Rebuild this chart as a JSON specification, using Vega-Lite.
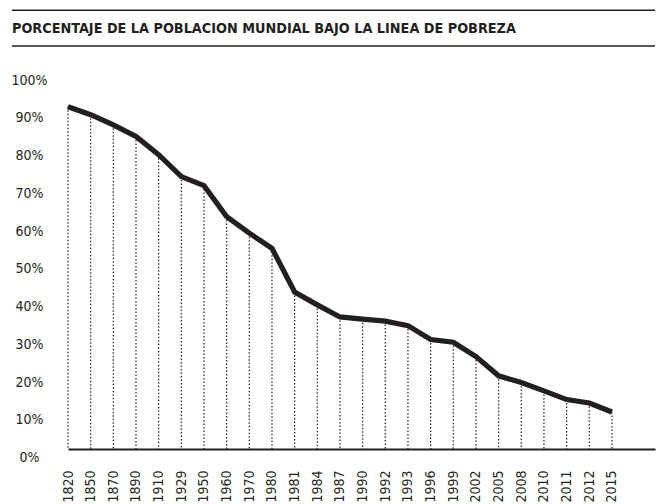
{
  "$schema": "https://vega.github.io/schema/vega-lite/v6.json",
  "width": 643,
  "height": 443,
  "autosize": "none",
  "padding": {"left": 12, "top": 6, "right": 5, "bottom": 55},
  "background": "white",
  "config": {"view": {"stroke": null}},
  "title": {
    "text": "PORCENTAJE DE LA POBLACION MUNDIAL BAJO LA LINEA DE POBREZA",
    "anchor": "start",
    "frame": "group",
    "orient": "top",
    "offset": -37,
    "baseline": "middle",
    "font": "Liberation Sans Narrow, DejaVu Sans Condensed, sans-serif",
    "fontSize": 14.3,
    "fontWeight": "bold",
    "color": "#231f20"
  },
  "datasets": {
    "poverty": [
      {"year": "1820", "pct": 90.7},
      {"year": "1850", "pct": 88.6},
      {"year": "1870", "pct": 85.9},
      {"year": "1890", "pct": 82.8},
      {"year": "1910", "pct": 78.0},
      {"year": "1929", "pct": 72.2},
      {"year": "1950", "pct": 69.8},
      {"year": "1960", "pct": 61.6},
      {"year": "1970", "pct": 57.2},
      {"year": "1980", "pct": 53.2},
      {"year": "1981", "pct": 41.6},
      {"year": "1984", "pct": 38.2},
      {"year": "1987", "pct": 35.0},
      {"year": "1990", "pct": 34.4},
      {"year": "1992", "pct": 33.9},
      {"year": "1993", "pct": 32.7},
      {"year": "1996", "pct": 29.0},
      {"year": "1999", "pct": 28.3},
      {"year": "2002", "pct": 24.5},
      {"year": "2005", "pct": 19.4},
      {"year": "2008", "pct": 17.6},
      {"year": "2010", "pct": 15.4},
      {"year": "2011", "pct": 13.1},
      {"year": "2012", "pct": 12.2},
      {"year": "2015", "pct": 9.8}
    ],
    "one": [{"k": 1}]
  },
  "layer": [
    {
      "data": {"name": "poverty"},
      "mark": {"type": "rule", "color": "#231f20", "strokeWidth": 1.2, "strokeDash": [1.5, 2]},
      "encoding": {
        "x": {
          "field": "year",
          "type": "ordinal",
          "sort": null,
          "scale": {"type": "point", "range": [56, 643], "padding": 0.95, "align": 0},
          "axis": {
            "title": null,
            "ticks": false,
            "domainColor": "#231f20",
            "domainWidth": 2,
            "labelAngle": -90,
            "labelPadding": 21,
            "labelOverlap": false,
            "labelBound": false,
            "labelFont": "Liberation Sans Narrow, DejaVu Sans Condensed, sans-serif",
            "labelFontSize": 14,
            "labelColor": "#231f20"
          }
        },
        "y": {
          "field": "pct",
          "type": "quantitative",
          "scale": {"domain": [0, 117.4], "nice": false, "zero": true},
          "axis": {
            "title": null,
            "values": [0, 10, 20, 30, 40, 50, 60, 70, 80, 90, 100],
            "labelExpr": "datum.value + '%'",
            "offset": -56,
            "domain": false,
            "ticks": false,
            "tickSize": 0,
            "grid": false,
            "labelAlign": "center",
            "labelPadding": 39,
            "labelOffset": 8.5,
            "labelOverlap": false,
            "labelBound": false,
            "labelFlush": false,
            "labelFont": "Liberation Sans Narrow, DejaVu Sans Condensed, sans-serif",
            "labelFontSize": 14,
            "labelColor": "#231f20"
          }
        },
        "y2": {"datum": 0}
      }
    },
    {
      "data": {"name": "poverty"},
      "mark": {"type": "line", "color": "#231f20", "strokeWidth": 5.2, "strokeJoin": "miter"},
      "encoding": {
        "x": {"field": "year", "type": "ordinal", "sort": null},
        "y": {"field": "pct", "type": "quantitative"}
      }
    },
    {
      "data": {"name": "one"},
      "mark": {"type": "rule", "color": "#231f20", "strokeWidth": 1.5},
      "encoding": {"y": {"datum": 116.3, "type": "quantitative"}}
    },
    {
      "data": {"name": "one"},
      "mark": {"type": "rule", "color": "#231f20", "strokeWidth": 1.5},
      "encoding": {"y": {"datum": 106.8, "type": "quantitative"}}
    }
  ]
}
